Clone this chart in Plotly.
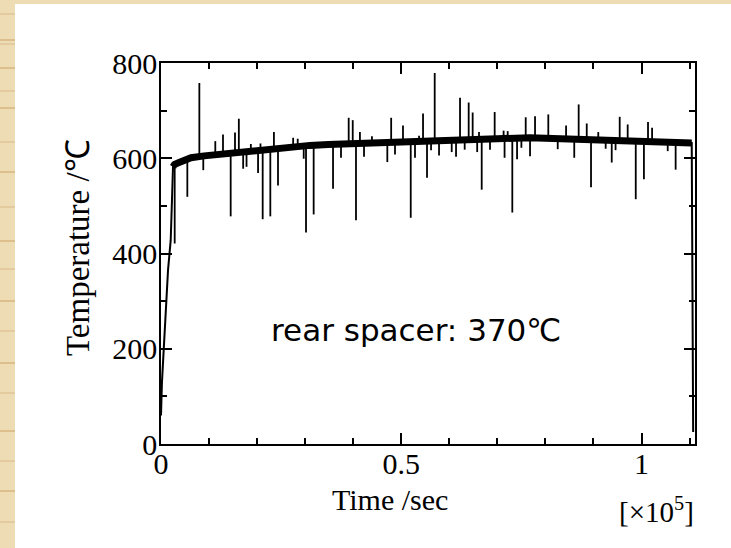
import plotly.graph_objects as go

# ---- data (time in units of 1e5 s, temperature in deg C) ----
# smoothed temperature record (centre of the noisy band)
base_time = [0.0, 0.002, 0.0146, 0.0202, 0.025, 0.028, 0.035, 0.045, 0.0625, 0.09,
             0.133, 0.17, 0.202, 0.235, 0.271, 0.31, 0.348, 0.418, 0.487, 0.556,
             0.629, 0.699, 0.768, 0.837, 0.910, 0.98, 1.049, 1.1045, 1.1075]
base_temp = [60, 130, 365, 428, 582, 587, 590, 595, 601, 605,
             610, 614, 617, 621, 625, 627, 629, 632, 634, 636,
             639, 641, 643, 641, 641, 638, 636, 632, 25]
steady_from = 4   # index where the record settles into the plateau
steady_to = 28    # index of the last plateau point

# isolated upward spikes: time, peak value, level of the band beside it
up_time = [0.0798, 0.113, 0.129, 0.154, 0.162, 0.187, 0.207, 0.235, 0.275, 0.2845,
           0.3906, 0.399, 0.414, 0.439, 0.479, 0.5036, 0.537, 0.5453, 0.5696, 0.6223,
           0.6403, 0.6486, 0.6618, 0.6944, 0.713, 0.7215, 0.759, 0.7784, 0.806, 0.843,
           0.8692, 0.886, 0.910, 0.9546, 0.9712, 1.0135, 1.022]
up_peak = [758, 636, 650, 654, 683, 630, 631, 655, 643, 641,
           685, 680, 655, 646, 685, 669, 647, 694, 779, 727,
           717, 696, 655, 697, 658, 657, 686, 688, 692, 669,
           713, 673, 655, 687, 671, 676, 664]
up_from = [603, 607, 609, 612, 613, 615, 617, 621, 625, 626,
           631, 631, 632, 633, 634, 634, 635, 636, 636, 639,
           639, 640, 640, 641, 641, 642, 643, 643, 642, 641,
           641, 641, 641, 639, 638, 637, 637]

# isolated downward spikes: time, minimum value, level of the band beside it
down_time = [0.0285, 0.0548, 0.088, 0.145, 0.171, 0.178, 0.202, 0.2116, 0.2275, 0.2435,
             0.297, 0.3018, 0.3177, 0.358, 0.3746, 0.4058, 0.4225, 0.471, 0.487, 0.5197,
             0.5286, 0.5536, 0.562, 0.5786, 0.605, 0.614, 0.632, 0.658, 0.6674, 0.6847,
             0.715, 0.7311, 0.741, 0.75, 0.768, 0.8256, 0.860, 0.8949, 0.9254, 0.938,
             0.946, 0.988, 1.005, 1.0545, 1.071]
down_min = [421, 519, 575, 478, 578, 582, 569, 472, 478, 543,
            599, 444, 482, 536, 601, 470, 603, 592, 608, 475,
            601, 559, 617, 606, 613, 603, 618, 613, 534, 618,
            601, 486, 598, 622, 604, 619, 601, 539, 620, 591,
            617, 514, 556, 615, 576]
down_from = [587, 598, 604, 611, 614, 614, 617, 618, 620, 622,
             626, 626, 627, 629, 630, 631, 632, 634, 634, 635,
             635, 636, 636, 637, 638, 638, 639, 640, 640, 641,
             641, 642, 642, 642, 643, 642, 641, 641, 640, 640,
             639, 638, 637, 636, 635]

x_ticks = [0, 0.5, 1]
x_labels = ["0", "0.5", "1"]
y_ticks = [0, 200, 400, 600, 800]
y_labels = ["0", "200", "400", "600", "800"]

SERIF = "Liberation Serif"

# build spike segments separated by gaps
sx, sy = [], []
for t, a, b in zip(up_time + down_time, up_from + down_from, up_peak + down_min):
    sx += [t, t, None]
    sy += [a, b, None]

fig = go.Figure()
# whole record as a thin line (fast heat-up and cool-down)
fig.add_trace(go.Scatter(x=base_time, y=base_temp, mode="lines",
                         line=dict(color="black", width=2),
                         hoverinfo="skip", showlegend=False))
fig.add_trace(go.Scatter(x=sx, y=sy, mode="lines",
                         line=dict(color="black", width=1.8),
                         hoverinfo="skip", showlegend=False))
# plateau: the noisy signal forms a thick band
fig.add_trace(go.Scatter(x=base_time[steady_from:steady_to],
                         y=base_temp[steady_from:steady_to], mode="lines",
                         line=dict(color="black", width=7),
                         showlegend=False))

W, H = 731, 548
L, R, T, B = 161, 36, 63, 104
pw, ph = W - L - R, H - T - B


def px_x(p):
    return (p - L) / pw


def px_y(p):
    return (H - B - p) / ph


# slide background: beige strip on the left and top, white sheet elsewhere
shapes = [dict(type="rect", xref="paper", yref="paper",
               x0=px_x(15), x1=px_x(W + 5), y0=px_y(4), y1=px_y(H + 5),
               fillcolor="white", line=dict(width=0), layer="below")]
stripe_rows = [13, 39, 43, 67, 90, 107, 141, 171, 206, 240, 268, 300, 330,
               362, 392, 430, 460, 490, 521]
for i, r in enumerate(stripe_rows):
    shapes.append(dict(type="rect", xref="paper", yref="paper",
                       x0=px_x(0), x1=px_x(15), y0=px_y(r), y1=px_y(r + 2),
                       fillcolor="#dcbf8c" if i % 2 else "#e3cb9f",
                       line=dict(width=0), layer="below"))

axis_common = dict(showline=True, linecolor="black", linewidth=1.6, mirror="allticks",
                   ticks="inside", ticklen=11, tickwidth=1.5, tickcolor="black",
                   showgrid=False, zeroline=False,
                   tickfont=dict(family=SERIF, size=30, color="black"))

fig.update_layout(
    width=W, height=H,
    margin=dict(l=L, r=R, t=T, b=B),
    paper_bgcolor="#eddcb4",
    plot_bgcolor="white",
    shapes=shapes,
    xaxis=dict(range=[0, 1.1113], tickvals=x_ticks, ticktext=x_labels,
               ticklabelstandoff=-8,
               minor=dict(dtick=0.1, tick0=0, ticks="inside", ticklen=6,
                          tickwidth=1.5, tickcolor="black"),
               **axis_common),
    yaxis=dict(range=[0, 800], tickvals=y_ticks, ticktext=y_labels,
               ticklabelstandoff=-4,
               minor=dict(dtick=100, tick0=0, ticks="inside", ticklen=6,
                          tickwidth=1.5, tickcolor="black"),
               **axis_common),
    annotations=[
        dict(text="Time /sec", xref="paper", yref="paper", x=px_x(390), y=px_y(500),
             xanchor="center", yanchor="middle",
             showarrow=False, font=dict(family=SERIF, size=30, color="black")),
        dict(text="[×10<sup>5</sup>]", xref="paper", yref="paper", x=px_x(656), y=px_y(510),
             xanchor="center", yanchor="middle",
             showarrow=False, font=dict(family=SERIF, size=29, color="black")),
        dict(text="Temperature /℃", xref="paper", yref="paper", x=px_x(78), y=px_y(248),
             xanchor="center", yanchor="middle",
             textangle=-90, showarrow=False,
             font=dict(family=SERIF, size=33, color="black")),
        dict(text="rear spacer: 370℃", xref="x", yref="y", x=0.5297, y=239,
             xanchor="center", yanchor="middle",
             showarrow=False, font=dict(family="DejaVu Sans", size=31, color="black")),
    ],
)

fig.write_html("out.html")
